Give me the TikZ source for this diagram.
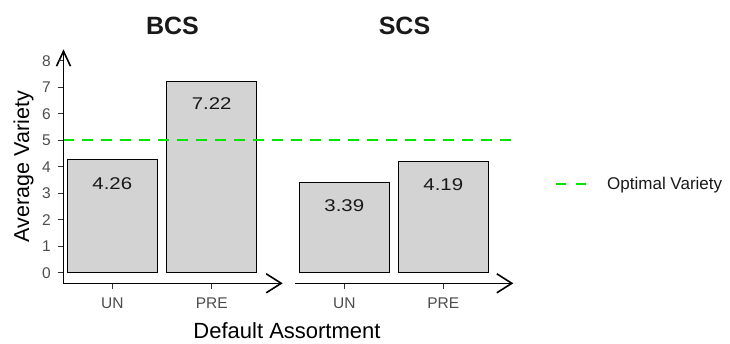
\documentclass[tikz,border=0pt]{standalone}
\usepackage{fontspec}
\setmainfont{Liberation Sans}
\usetikzlibrary{arrows.meta}
\definecolor{barfill}{HTML}{D3D3D3}
\definecolor{tickgray}{HTML}{4D4D4D}
\definecolor{optgreen}{HTML}{00E600}
\newcommand{\wide}[1]{\scalebox{1.2}[1]{#1}}
\begin{document}
\begin{tikzpicture}[x=1pt,y=-1pt,
  bar/.style={draw=black,fill=barfill,line width=1pt},
  axisline/.style={line width=1.6pt},
  yarr/.style={-{Straight Barb[length=15pt,width=14pt,line width=1.6pt]}},
  xarr/.style={-{Straight Barb[length=15pt,width=19pt,line width=1.6pt]}},
  ticklab/.style={text=tickgray,font=\fontsize{15.5}{15.5}\selectfont,inner sep=0pt},
  vallab/.style={text=black!90,font=\fontsize{17}{17}\selectfont,inner sep=0pt},
  ttl/.style={text=black!90,font=\fontsize{25}{25}\selectfont\bfseries,inner sep=0pt},
  axlab/.style={text=black,font=\fontsize{22}{22}\selectfont,inner sep=0pt},
  optline/.style={draw=optgreen,line width=2pt,dash pattern=on 11pt off 8pt},
  tick/.style={line width=1pt,draw=black!80}]
\useasboundingbox (0,0) rectangle (730,343);
% y scale: value v -> 272.7 - 26.5 v
% bars
\draw[bar] (67.3,272.7) rectangle (157.3,159.8);
\draw[bar] (166.7,272.7) rectangle (256.7,81.4);
\draw[bar] (299.3,272.7) rectangle (389.3,182.9);
\draw[bar] (398.3,272.7) rectangle (488.3,161.7);
\node[vallab] (v1) at (112.3,183.3) {\wide{4.26}};
\node[vallab] (v2) at (211.7,104) {\wide{7.22}};
\node[vallab] (v3) at (344.3,205.5) {\wide{3.39}};
\node[vallab] (v4) at (443.3,185) {\wide{4.19}};
% optimal line
\coordinate (o1) at (63,140.2);
\coordinate (o2) at (512,140.2);
\draw[optline] (o1) -- (o2);
% axes
\coordinate (yb) at (63.5,283.3);
\coordinate (yt) at (63.5,49.3);
\coordinate (xl) at (62.8,283.3);
\coordinate (xr) at (282.7,283.3);
\coordinate (xl2) at (295,283.3);
\coordinate (xr2) at (513.3,283.3);
\draw[axisline,yarr] (yb) -- (yt);
\draw[axisline,xarr] (xl) -- (xr);
\draw[axisline,xarr] (xl2) -- (xr2);
% y ticks
\foreach \v in {0,...,8}{
  \draw[tick] (57.5,{272.7-26.5*\v}) -- (63,{272.7-26.5*\v});
  \node[ticklab,anchor=east] (yt\v) at (51,{272.7-26.5*\v}) {\v};
}
% x ticks
\foreach \x/\l/\n in {112.3/UN/a,211.7/PRE/b,344.3/UN/c,443.3/PRE/d}{
  \draw[tick] (\x,284) -- (\x,289);
  \node[ticklab] (xt\n) at (\x,302.8) {\l};
}
% titles & labels
\node[ttl] (t1) at (172.5,25.5) {BCS};
\node[ttl] (t2) at (404.5,25.5) {SCS};
\node[axlab] (xlab) at (287,330.5) {Default Assortment};
\node[axlab,rotate=90,anchor=base,font=\fontsize{21.5}{21.5}\selectfont] (ylab) at (29,166.7) {Average Variety};
% legend
\coordinate (l1) at (556,184);
\coordinate (l2) at (588,184);
\draw[optline,dash pattern=on 10pt off 10pt] (l1) -- (l2);
\node[ticklab,text=black!90,anchor=base west,font=\fontsize{17}{17}\selectfont] (leg) at (607,189.3) {Optimal Variety};
\end{tikzpicture}
\end{document}
